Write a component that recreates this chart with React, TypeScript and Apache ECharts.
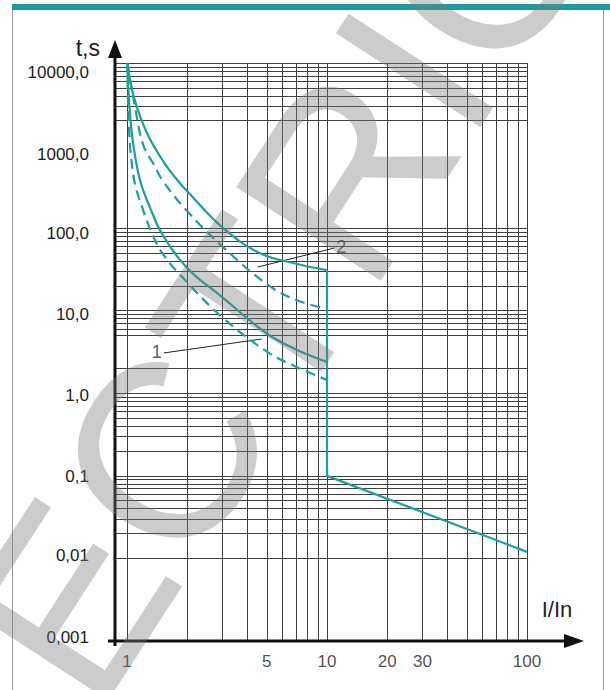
import React, { useEffect, useRef } from "react";
import * as echarts from "echarts";

// ---- data ----
const xGridValues = [1, 2, 3, 4, 5, 6, 7, 8, 9, 10, 20, 30, 40, 50, 60, 70, 80, 90, 100];
const yGridValues = [
  10000, 9000, 8000, 7000, 6000, 5000, 4000, 3000, 2000,
  100, 90, 80, 70, 60, 50, 40, 30, 20,
  10, 9, 8, 7, 6, 5, 2,
  1, 0.9, 0.8, 0.7, 0.6, 0.5, 0.4, 0.3, 0.2,
  0.1, 0.09, 0.08, 0.07, 0.06, 0.05, 0.04, 0.03, 0.02,
  0.01, 0.009, 0.008, 0.007, 0.006, 0.005, 0.004, 0.003, 0.002,
];
const yTickValues = [10000, 1000, 100, 10, 1, 0.1, 0.01, 0.001];
const yTickLabels = ["10000,0", "1000,0", "100,0", "10,0", "1,0", "0,1", "0,01", "0,001"];
const xTickValues = [1, 5, 10, 20, 30, 100];
const xTickLabels = ["1", "5", "10", "20", "30", "100"];

const upperSolid = [
  [1.005, 10000], [1.075, 4100], [1.25, 1470], [1.52, 640], [1.84, 350], [2, 280],
  [3, 102], [4.6, 50], [7, 37], [10, 31],
];
const upperDashed = [
  [1.005, 10000], [1.096, 2960], [1.206, 1016], [1.36, 593], [1.52, 366], [2, 160],
  [3, 60], [5, 21], [7, 13.5], [10, 10.5],
];
const lowerSolid = [
  [1.005, 10000], [1.015, 4900], [1.055, 1470], [1.118, 582], [1.18, 334], [1.3, 180],
  [1.5, 85], [2, 33], [3, 14.5], [5, 5.3], [7, 3.4], [10, 2.4],
];
const lowerDashed = [
  [1.005, 10000], [1.01, 4000], [1.025, 1500], [1.05, 700], [1.1, 330], [1.2, 170],
  [1.3, 100], [1.5, 50], [2, 22], [3, 8.3], [5, 3.2], [7, 2.1], [10, 1.45],
];
const instantTrip = [[10, 31], [10, 0.1], [100, 0.012]];

const curveLabels = [
  { name: "1", value: [1.41, 3.16] },
  { name: "2", value: [11.8, 59] },
];
const leader1 = [[1.53, 3.08], [4.71, 4.54]];
const leader2 = [[4.5, 33.8], [10.9, 57.5]];

// ---- style ----
const TEAL = "#1f9f9a";
const FONT = "Liberation Sans, Arial, sans-serif";
const GRID_COLOR = "#404040";
const LABEL_COLOR = "#222";
// vertical nudges of the y tick labels, as in the original drawing
const yLabelPadding = [
  [18, 0, 0, 0], [18, 0, 0, 0], [10, 0, 0, 0], [8, 0, 0, 0],
  [4, 0, 0, 0], [2, 0, 0, 0], [0, 0, 6, 0], [0, 0, 8, 0],
];

export default function App() {
  const ref = useRef<HTMLDivElement>(null);

  useEffect(() => {
    if (!ref.current) return;
    const chart = echarts.init(ref.current, undefined, { renderer: "svg" });

    const curveBase = {
      type: "line",
      smooth: 0.4,
      symbol: "none",
      z: 10,
      silent: true,
    };

    const rich: any = {};
    yLabelPadding.forEach((p, i) => {
      rich["l" + i] = { padding: p, fontSize: 17, color: LABEL_COLOR, fontFamily: FONT };
    });

    const option: any = {
      animation: false,
      backgroundColor: "#ffffff",
      grid: { left: 115, right: 83, top: 63, bottom: 49 },
      xAxis: {
        type: "log",
        logBase: 10,
        min: 0.871,
        max: 100,
        axisLine: { show: false },
        axisTick: { show: false },
        axisLabel: { show: false },
        splitLine: { show: false },
      },
      yAxis: {
        type: "log",
        logBase: 10,
        min: 0.001,
        max: 10000,
        axisLine: { show: false },
        axisTick: { show: false },
        splitLine: { show: false },
        axisLabel: {
          margin: 26,
          fontSize: 17,
          color: LABEL_COLOR,
          fontFamily: FONT,
          rich,
          formatter: (v: number) => {
            const i = yTickValues.findIndex(
              (t) => Math.abs(Math.log10(t) - Math.log10(v)) < 1e-6
            );
            return i >= 0 ? `{l${i}|${yTickLabels[i]}}` : "";
          },
        },
      },
      series: [
        {
          name: "grid",
          type: "line",
          data: [],
          silent: true,
          markLine: {
            silent: true,
            symbol: ["none", "none"],
            label: { show: false },
            lineStyle: { color: GRID_COLOR, width: 1, type: "solid" },
            emphasis: { disabled: true },
            data: [
              ...yGridValues.map((v) => ({ yAxis: v })),
              ...xGridValues.map((v) => ({ xAxis: v })),
              [
                { coord: leader1[0], lineStyle: { color: "#222", width: 1 } },
                { coord: leader1[1] },
              ],
              [
                { coord: leader2[0], lineStyle: { color: "#222", width: 1 } },
                { coord: leader2[1] },
              ],
            ],
          },
        },
        {
          ...curveBase,
          name: "2 max",
          data: upperSolid,
          lineStyle: { color: TEAL, width: 2.2 },
        },
        {
          ...curveBase,
          name: "2 min",
          data: upperDashed,
          lineStyle: { color: TEAL, width: 2.2, type: [10, 6] },
        },
        {
          ...curveBase,
          name: "1 max",
          data: lowerSolid,
          lineStyle: { color: TEAL, width: 2.2 },
        },
        {
          ...curveBase,
          name: "1 min",
          data: lowerDashed,
          lineStyle: { color: TEAL, width: 2.2, type: [10, 6] },
        },
        {
          type: "line",
          name: "instant",
          data: instantTrip,
          symbol: "none",
          z: 10,
          silent: true,
          lineStyle: { color: TEAL, width: 2.2 },
        },
        {
          type: "scatter",
          name: "xlabels",
          data: xTickValues.map((v, i) => ({ name: xTickLabels[i], value: [v, 0.001] })),
          symbolSize: 0,
          silent: true,
          z: 12,
          label: {
            show: true,
            position: "bottom",
            distance: 12,
            formatter: (p: any) => p.name,
            fontSize: 17,
            color: LABEL_COLOR,
            fontFamily: FONT,
          },
        },
        {
          type: "scatter",
          name: "curvelabels",
          data: curveLabels,
          symbolSize: 0,
          silent: true,
          z: 12,
          label: {
            show: true,
            position: "inside",
            formatter: (p: any) => p.name,
            fontSize: 18,
            color: "#333",
            fontFamily: FONT,
          },
        },
      ],
      graphic: [
        // frame
        { type: "rect", silent: true, z: 1, shape: { x: 12, y: 4, width: 598, height: 6 }, style: { fill: "#1a9c97" } },
        { type: "line", silent: true, z: 1, shape: { x1: 12.5, y1: 10, x2: 12.5, y2: 690 }, style: { stroke: "#9a9a9a", lineWidth: 1 } },
        { type: "line", silent: true, z: 1, shape: { x1: 603.5, y1: 10, x2: 603.5, y2: 690 }, style: { stroke: "#9a9a9a", lineWidth: 1 } },
        // axes
        { type: "line", silent: true, z: 20, shape: { x1: 115, y1: 646, x2: 115, y2: 55 }, style: { stroke: "#111", lineWidth: 3 } },
        { type: "polygon", silent: true, z: 20, shape: { points: [[115, 40], [108, 58], [122, 58]] }, style: { fill: "#111" } },
        { type: "line", silent: true, z: 20, shape: { x1: 108, y1: 641, x2: 568, y2: 641 }, style: { stroke: "#111", lineWidth: 3 } },
        { type: "polygon", silent: true, z: 20, shape: { points: [[584, 641], [564, 634], [564, 648]] }, style: { fill: "#111" } },
        // axis names
        {
          type: "text", silent: true, z: 20, x: 100, y: 48,
          style: { text: "t,s", fontSize: 23, fontFamily: FONT, fill: "#222", align: "right", verticalAlign: "middle", textAlign: "right", textVerticalAlign: "middle" },
        },
        {
          type: "text", silent: true, z: 20, x: 557, y: 609,
          style: { text: "I/In", fontSize: 22, fontFamily: FONT, fill: "#222", align: "center", verticalAlign: "middle", textAlign: "center", textVerticalAlign: "middle" },
        },
        // watermark
        {
          type: "text", silent: true, z: 100, x: 278, y: 280, rotation: (57 * Math.PI) / 180,
          style: {
            text: "ECTRIC", fontSize: 250, fontFamily: FONT, fill: "rgba(120,120,120,0.38)",
            align: "center", verticalAlign: "middle", textAlign: "center", textVerticalAlign: "middle",
          },
        },
      ],
    };

    chart.setOption(option);
    return () => chart.dispose();
  }, []);

  return (
    <div
      ref={ref}
      style={{ position: "absolute", left: 0, top: 0, width: 610, height: 690, background: "#fff" }}
    />
  );
}
